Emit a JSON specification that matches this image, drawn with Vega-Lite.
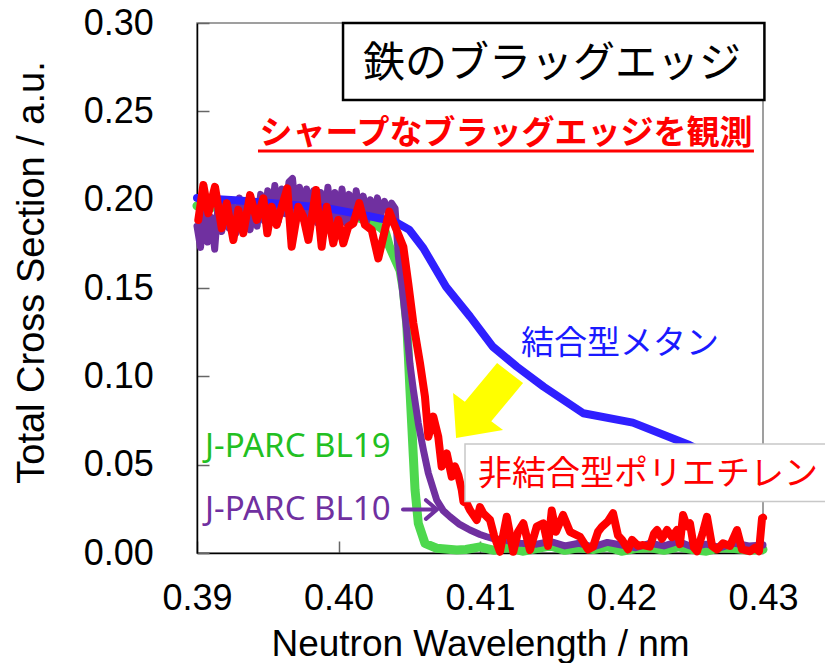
{
  "$schema": "https://vega.github.io/schema/vega-lite/v6.json",
  "width": 566,
  "height": 530,
  "autosize": "none",
  "padding": {"left": 197, "top": 23, "right": 62, "bottom": 110},
  "background": "white",
  "config": {
    "view": {"stroke": "#808080", "strokeWidth": 1.5},
    "axis": {
      "grid": false,
      "labelFont": "Liberation Sans",
      "labelFontSize": 36,
      "labelColor": "#000000",
      "titleFont": "Liberation Sans",
      "titleFontWeight": "normal",
      "titleColor": "#000000",
      "domainColor": "#000000",
      "domainWidth": 1.5,
      "tickColor": "#666666",
      "tickWidth": 1.5,
      "tickSize": -12,
      "labelFlush": false,
      "labelOverlap": false
    },
    "axisX": {"labelPadding": 40.6, "titleFontSize": 37, "titleX": 283, "titleY": 102, "titleBaseline": "alphabetic", "titleAlign": "center"},
    "axisY": {"labelPadding": 55.7, "titleFontSize": 38, "titleX": -154, "titleY": 249, "titleBaseline": "alphabetic", "titleAlign": "center", "titleAngle": -90}
  },
  "datasets": {
    "blue": [
      {"x": 0.3900, "y": 0.2010}, {"x": 0.3930, "y": 0.1995}, {"x": 0.3960, "y": 0.1975}, {"x": 0.3990, "y": 0.1955},
      {"x": 0.4020, "y": 0.1910}, {"x": 0.4040, "y": 0.1875}, {"x": 0.4050, "y": 0.1830}, {"x": 0.4060, "y": 0.1725},
      {"x": 0.4076, "y": 0.1507}, {"x": 0.4093, "y": 0.1338}, {"x": 0.4109, "y": 0.1168}, {"x": 0.4126, "y": 0.1055},
      {"x": 0.4145, "y": 0.0941}, {"x": 0.4173, "y": 0.0791}, {"x": 0.4208, "y": 0.0738}, {"x": 0.4248, "y": 0.0611},
      {"x": 0.4300, "y": 0.0400}
    ],
    "green": [
      {"x": 0.3900, "y": 0.1965}, {"x": 0.3905, "y": 0.1975}, {"x": 0.3910, "y": 0.1955}, {"x": 0.3915, "y": 0.1968},
      {"x": 0.3920, "y": 0.1958}, {"x": 0.3925, "y": 0.1972}, {"x": 0.3930, "y": 0.1962}, {"x": 0.3935, "y": 0.1975},
      {"x": 0.3940, "y": 0.1965}, {"x": 0.3945, "y": 0.1980}, {"x": 0.3950, "y": 0.1968}, {"x": 0.3955, "y": 0.1978},
      {"x": 0.3960, "y": 0.1970}, {"x": 0.3965, "y": 0.1975}, {"x": 0.3970, "y": 0.1960}, {"x": 0.3975, "y": 0.1968},
      {"x": 0.3980, "y": 0.1950}, {"x": 0.3985, "y": 0.1945}, {"x": 0.3990, "y": 0.1935}, {"x": 0.3995, "y": 0.1940},
      {"x": 0.4000, "y": 0.1925}, {"x": 0.4005, "y": 0.1918}, {"x": 0.4010, "y": 0.1905}, {"x": 0.4015, "y": 0.1895},
      {"x": 0.4020, "y": 0.1880}, {"x": 0.4025, "y": 0.1865}, {"x": 0.4030, "y": 0.1840}, {"x": 0.4033, "y": 0.1820},
      {"x": 0.4036, "y": 0.1735}, {"x": 0.40435, "y": 0.1600}, {"x": 0.40458, "y": 0.1490}, {"x": 0.40482, "y": 0.1300},
      {"x": 0.40494, "y": 0.1110}, {"x": 0.40505, "y": 0.0923}, {"x": 0.40517, "y": 0.0735}, {"x": 0.40529, "y": 0.0545},
      {"x": 0.40541, "y": 0.0357}, {"x": 0.40564, "y": 0.0168}, {"x": 0.40611, "y": 0.0055}, {"x": 0.40694, "y": 0.0027},
      {"x": 0.40835, "y": 0.0017}, {"x": 0.4090, "y": 0.0020}, {"x": 0.4100, "y": 0.0035}, {"x": 0.4110, "y": 0.0015},
      {"x": 0.4120, "y": 0.0030}, {"x": 0.4130, "y": 0.0010}, {"x": 0.4140, "y": 0.0025}, {"x": 0.4150, "y": 0.0040},
      {"x": 0.4160, "y": 0.0015}, {"x": 0.4170, "y": 0.0030}, {"x": 0.4180, "y": 0.0020}, {"x": 0.4190, "y": 0.0035},
      {"x": 0.4200, "y": 0.0010}, {"x": 0.4210, "y": 0.0025}, {"x": 0.4220, "y": 0.0030}, {"x": 0.4230, "y": 0.0015},
      {"x": 0.4240, "y": 0.0035}, {"x": 0.4250, "y": 0.0020}, {"x": 0.4260, "y": 0.0010}, {"x": 0.4270, "y": 0.0030},
      {"x": 0.4280, "y": 0.0025}, {"x": 0.4290, "y": 0.0015}, {"x": 0.4300, "y": 0.0020}
    ],
    "purple": [
      {"x": 0.39000, "y": 0.1850}, {"x": 0.39025, "y": 0.1730}, {"x": 0.39050, "y": 0.1950}, {"x": 0.39075, "y": 0.1760},
      {"x": 0.39100, "y": 0.1900}, {"x": 0.39125, "y": 0.1720}, {"x": 0.39150, "y": 0.1980}, {"x": 0.39175, "y": 0.1820},
      {"x": 0.39200, "y": 0.2000}, {"x": 0.39225, "y": 0.1840}, {"x": 0.39250, "y": 0.1960}, {"x": 0.39275, "y": 0.1810},
      {"x": 0.39300, "y": 0.2010}, {"x": 0.39325, "y": 0.1860}, {"x": 0.39350, "y": 0.1990}, {"x": 0.39375, "y": 0.1830},
      {"x": 0.39400, "y": 0.1970}, {"x": 0.39425, "y": 0.1850}, {"x": 0.39450, "y": 0.2030}, {"x": 0.39475, "y": 0.1880},
      {"x": 0.39500, "y": 0.2050}, {"x": 0.39525, "y": 0.1900}, {"x": 0.39550, "y": 0.2080}, {"x": 0.39575, "y": 0.1880},
      {"x": 0.39600, "y": 0.2060}, {"x": 0.39625, "y": 0.1920}, {"x": 0.39650, "y": 0.2100}, {"x": 0.39675, "y": 0.2120},
      {"x": 0.39700, "y": 0.1910}, {"x": 0.39725, "y": 0.2070}, {"x": 0.39750, "y": 0.1890}, {"x": 0.39775, "y": 0.2060},
      {"x": 0.39800, "y": 0.1900}, {"x": 0.39825, "y": 0.2050}, {"x": 0.39850, "y": 0.1870}, {"x": 0.39875, "y": 0.2040},
      {"x": 0.39900, "y": 0.1880}, {"x": 0.39925, "y": 0.2070}, {"x": 0.39950, "y": 0.1860}, {"x": 0.39975, "y": 0.2040},
      {"x": 0.40000, "y": 0.1890}, {"x": 0.40025, "y": 0.2060}, {"x": 0.40050, "y": 0.1870}, {"x": 0.40075, "y": 0.2030},
      {"x": 0.40100, "y": 0.1880}, {"x": 0.40125, "y": 0.2050}, {"x": 0.40150, "y": 0.1900}, {"x": 0.40175, "y": 0.2020},
      {"x": 0.40200, "y": 0.1880}, {"x": 0.40225, "y": 0.2000}, {"x": 0.40250, "y": 0.1900}, {"x": 0.40275, "y": 0.2010},
      {"x": 0.40300, "y": 0.1920}, {"x": 0.40325, "y": 0.1990}, {"x": 0.40350, "y": 0.1940}, {"x": 0.40375, "y": 0.1980},
      {"x": 0.40400, "y": 0.1950}, {"x": 0.40423, "y": 0.1680}, {"x": 0.40447, "y": 0.1527}, {"x": 0.40482, "y": 0.1260},
      {"x": 0.40505, "y": 0.1070}, {"x": 0.40529, "y": 0.0923}, {"x": 0.40564, "y": 0.0734}, {"x": 0.40600, "y": 0.0583},
      {"x": 0.40635, "y": 0.0451}, {"x": 0.40694, "y": 0.0300}, {"x": 0.40740, "y": 0.0240}, {"x": 0.40788, "y": 0.0205},
      {"x": 0.40850, "y": 0.0165}, {"x": 0.40929, "y": 0.0130}, {"x": 0.41000, "y": 0.0105}, {"x": 0.41047, "y": 0.0092},
      {"x": 0.41100, "y": 0.0080}, {"x": 0.41165, "y": 0.0074}, {"x": 0.41283, "y": 0.0055}, {"x": 0.4140, "y": 0.0050},
      {"x": 0.4150, "y": 0.0065}, {"x": 0.4160, "y": 0.0040}, {"x": 0.4170, "y": 0.0055}, {"x": 0.4180, "y": 0.0035},
      {"x": 0.4190, "y": 0.0060}, {"x": 0.4200, "y": 0.0045}, {"x": 0.4210, "y": 0.0030}, {"x": 0.4220, "y": 0.0055},
      {"x": 0.4230, "y": 0.0040}, {"x": 0.4240, "y": 0.0065}, {"x": 0.4250, "y": 0.0035}, {"x": 0.4260, "y": 0.0050},
      {"x": 0.4270, "y": 0.0030}, {"x": 0.4280, "y": 0.0055}, {"x": 0.4290, "y": 0.0040}, {"x": 0.4300, "y": 0.0045}
    ],
    "red": [
      {"x": 0.39009, "y": 0.1885}, {"x": 0.39045, "y": 0.2083}, {"x": 0.39080, "y": 0.1923}, {"x": 0.39127, "y": 0.2073},
      {"x": 0.39175, "y": 0.1838}, {"x": 0.39210, "y": 0.1980}, {"x": 0.39257, "y": 0.1772}, {"x": 0.39292, "y": 0.1942},
      {"x": 0.39327, "y": 0.1810}, {"x": 0.39375, "y": 0.2026}, {"x": 0.39422, "y": 0.1885}, {"x": 0.39469, "y": 0.2008},
      {"x": 0.39497, "y": 0.1810}, {"x": 0.39528, "y": 0.1960}, {"x": 0.39563, "y": 0.1857}, {"x": 0.39599, "y": 0.1960},
      {"x": 0.39638, "y": 0.2064}, {"x": 0.39669, "y": 0.1734}, {"x": 0.39716, "y": 0.1960}, {"x": 0.39751, "y": 0.1904},
      {"x": 0.39787, "y": 0.1772}, {"x": 0.39841, "y": 0.2055}, {"x": 0.39881, "y": 0.1734}, {"x": 0.39917, "y": 0.1960},
      {"x": 0.39963, "y": 0.1753}, {"x": 0.39999, "y": 0.1885}, {"x": 0.40034, "y": 0.1753}, {"x": 0.40069, "y": 0.1847},
      {"x": 0.40105, "y": 0.1866}, {"x": 0.40147, "y": 0.1980}, {"x": 0.40187, "y": 0.1857}, {"x": 0.40235, "y": 0.1828},
      {"x": 0.40281, "y": 0.1668}, {"x": 0.40317, "y": 0.1790}, {"x": 0.40359, "y": 0.1932}, {"x": 0.40399, "y": 0.1850},
      {"x": 0.40458, "y": 0.1734}, {"x": 0.40493, "y": 0.1527}, {"x": 0.40529, "y": 0.1300}, {"x": 0.40576, "y": 0.1074},
      {"x": 0.40611, "y": 0.0885}, {"x": 0.40635, "y": 0.0658}, {"x": 0.40670, "y": 0.0772}, {"x": 0.40705, "y": 0.0658},
      {"x": 0.40729, "y": 0.0489}, {"x": 0.40765, "y": 0.0564}, {"x": 0.40800, "y": 0.0432}, {"x": 0.40823, "y": 0.0490},
      {"x": 0.40847, "y": 0.0441}, {"x": 0.40871, "y": 0.0357}, {"x": 0.40883, "y": 0.0290}, {"x": 0.40906, "y": 0.0281},
      {"x": 0.40929, "y": 0.0243}, {"x": 0.40977, "y": 0.0187}, {"x": 0.41000, "y": 0.0260}, {"x": 0.41023, "y": 0.0225},
      {"x": 0.41071, "y": 0.0187}, {"x": 0.41099, "y": 0.0100}, {"x": 0.41141, "y": 0.0007}, {"x": 0.41189, "y": 0.0205},
      {"x": 0.41235, "y": 0.0007}, {"x": 0.41269, "y": 0.0120}, {"x": 0.41306, "y": 0.0168}, {"x": 0.41353, "y": 0.0017},
      {"x": 0.41401, "y": 0.0149}, {"x": 0.41447, "y": 0.0168}, {"x": 0.41481, "y": 0.0040}, {"x": 0.41507, "y": 0.0240},
      {"x": 0.41537, "y": 0.0120}, {"x": 0.41587, "y": 0.0215}, {"x": 0.41636, "y": 0.0120}, {"x": 0.41707, "y": 0.0092},
      {"x": 0.41763, "y": 0.0020}, {"x": 0.41799, "y": 0.0036}, {"x": 0.41834, "y": 0.0120}, {"x": 0.41862, "y": 0.0149},
      {"x": 0.41905, "y": 0.0180}, {"x": 0.41940, "y": 0.0225}, {"x": 0.41975, "y": 0.0100}, {"x": 0.42004, "y": 0.0074},
      {"x": 0.42046, "y": 0.0020}, {"x": 0.42074, "y": 0.0074}, {"x": 0.42117, "y": 0.0040}, {"x": 0.42152, "y": 0.0045},
      {"x": 0.42201, "y": 0.0036}, {"x": 0.42230, "y": 0.0110}, {"x": 0.42251, "y": 0.0130}, {"x": 0.42286, "y": 0.0080},
      {"x": 0.42322, "y": 0.0130}, {"x": 0.42357, "y": 0.0090}, {"x": 0.42392, "y": 0.0130}, {"x": 0.42413, "y": 0.0050},
      {"x": 0.42435, "y": 0.0215}, {"x": 0.42463, "y": 0.0150}, {"x": 0.42484, "y": 0.0168}, {"x": 0.42512, "y": 0.0030},
      {"x": 0.42534, "y": 0.0010}, {"x": 0.42576, "y": 0.0120}, {"x": 0.42604, "y": 0.0205}, {"x": 0.42640, "y": 0.0040},
      {"x": 0.42675, "y": 0.0020}, {"x": 0.42717, "y": 0.0055}, {"x": 0.42767, "y": 0.0040}, {"x": 0.42816, "y": 0.0130},
      {"x": 0.42852, "y": 0.0020}, {"x": 0.42908, "y": 0.0010}, {"x": 0.42943, "y": 0.0030}, {"x": 0.42972, "y": 0.0010},
      {"x": 0.42993, "y": 0.0196}, {"x": 0.43000, "y": 0.0200}
    ]
  },
  "layer": [
    {
      "data": {"name": "green"},
      "mark": {"type": "line", "color": "#4ed84e", "strokeWidth": 9, "strokeJoin": "round", "strokeCap": "round"},
      "encoding": {
        "x": {"field": "x", "type": "quantitative", "title": "Neutron Wavelength / nm",
              "scale": {"domain": [0.39, 0.43], "nice": false, "zero": false},
              "axis": {"values": [0.39, 0.40, 0.41, 0.42, 0.43], "format": ".2f"}},
        "y": {"field": "y", "type": "quantitative", "title": "Total Cross Section / a.u.",
              "scale": {"domain": [0, 0.30], "nice": false, "zero": false},
              "axis": {"values": [0, 0.05, 0.10, 0.15, 0.20, 0.25, 0.30], "format": ".2f"}}
      }
    },
    {
      "data": {"name": "purple"},
      "mark": {"type": "line", "color": "#7030a0", "strokeWidth": 7, "strokeJoin": "round", "strokeCap": "round"},
      "encoding": {
        "x": {"field": "x", "type": "quantitative", "title": "Neutron Wavelength / nm"},
        "y": {"field": "y", "type": "quantitative", "title": "Total Cross Section / a.u."}
      }
    },
    {
      "data": {"name": "blue"},
      "mark": {"type": "line", "color": "#2f1fff", "strokeWidth": 8, "strokeJoin": "round", "strokeCap": "round"},
      "encoding": {
        "x": {"field": "x", "type": "quantitative", "title": "Neutron Wavelength / nm"},
        "y": {"field": "y", "type": "quantitative", "title": "Total Cross Section / a.u."}
      }
    },
    {
      "data": {"name": "red"},
      "mark": {"type": "line", "color": "#ff0000", "strokeWidth": 8, "strokeJoin": "round", "strokeCap": "round"},
      "encoding": {
        "x": {"field": "x", "type": "quantitative", "title": "Neutron Wavelength / nm"},
        "y": {"field": "y", "type": "quantitative", "title": "Total Cross Section / a.u."}
      }
    },
    {
      "data": {"values": [{"x": 0.40032, "x2": 0.43010, "y": 0.3000, "y2": 0.25641}]},
      "mark": {"type": "rect", "fill": "#ffffff", "stroke": "#000000", "strokeWidth": 2.5},
      "encoding": {
        "x": {"field": "x", "type": "quantitative", "title": "Neutron Wavelength / nm"},
        "x2": {"field": "x2"},
        "y": {"field": "y", "type": "quantitative", "title": "Total Cross Section / a.u."},
        "y2": {"field": "y2"}
      }
    },
    {
      "data": {"values": [{"x": 0.40894, "x2": 0.43480, "y": 0.0617, "y2": 0.02915}]},
      "mark": {"type": "rect", "fill": "#ffffff", "stroke": "#c8c8c8", "strokeWidth": 1.5},
      "encoding": {
        "x": {"field": "x", "type": "quantitative", "title": "Neutron Wavelength / nm"},
        "x2": {"field": "x2"},
        "y": {"field": "y", "type": "quantitative", "title": "Total Cross Section / a.u."},
        "y2": {"field": "y2"}
      }
    },
    {
      "data": {"values": [{"x": 0.39431, "x2": 0.42936, "y": 0.22756}]},
      "mark": {"type": "rule", "color": "#ff0000", "strokeWidth": 3},
      "encoding": {
        "x": {"field": "x", "type": "quantitative", "title": "Neutron Wavelength / nm"},
        "x2": {"field": "x2"},
        "y": {"field": "y", "type": "quantitative", "title": "Total Cross Section / a.u."}
      }
    },
    {
      "data": {"values": [{"x": 0.41057, "y": 0.08632}]},
      "mark": {"type": "point", "filled": true, "color": "#ffff00", "opacity": 1, "size": 5625,
               "shape": "M -0.853 1 L -0.933 -0.2 L -0.619 0.032 L 0.24 -1 L 0.933 -0.467 L 0.085 0.555 L 0.4 0.787 Z"},
      "encoding": {
        "x": {"field": "x", "type": "quantitative", "title": "Neutron Wavelength / nm"},
        "y": {"field": "y", "type": "quantitative", "title": "Total Cross Section / a.u."}
      }
    },
    {
      "data": {"values": [{"x": 0.40576, "y": 0.02462}]},
      "mark": {"type": "point", "filled": false, "color": "#7030a0", "opacity": 1, "strokeWidth": 4, "size": 1156,
               "strokeCap": "round", "strokeJoin": "round",
               "shape": "M -1 0 L 1 0 M 0.35 -0.55 L 1 0 L 0.35 0.55"},
      "encoding": {
        "x": {"field": "x", "type": "quantitative", "title": "Neutron Wavelength / nm"},
        "y": {"field": "y", "type": "quantitative", "title": "Total Cross Section / a.u."}
      }
    },
    {
      "data": {"values": [{"label": "鉄のブラッグエッジ", "x": 0.41509, "y": 0.27657}]},
      "mark": {"type": "text", "font": "Noto Sans CJK JP", "fontSize": 42, "color": "#000000", "align": "center", "baseline": "middle"},
      "encoding": {
        "x": {"field": "x", "type": "quantitative", "title": "Neutron Wavelength / nm"},
        "y": {"field": "y", "type": "quantitative", "title": "Total Cross Section / a.u."},
        "text": {"field": "label"}
      }
    },
    {
      "data": {"values": [{"label": "シャープなブラッグエッジを観測", "x": 0.41184, "y": 0.23743}]},
      "mark": {"type": "text", "font": "Noto Sans CJK JP", "fontSize": 33, "fontWeight": "bold", "color": "#ff0000", "align": "center", "baseline": "middle"},
      "encoding": {
        "x": {"field": "x", "type": "quantitative", "title": "Neutron Wavelength / nm"},
        "y": {"field": "y", "type": "quantitative", "title": "Total Cross Section / a.u."},
        "text": {"field": "label"}
      }
    },
    {
      "data": {"values": [{"label": "結合型メタン", "x": 0.41290, "y": 0.11853}]},
      "mark": {"type": "text", "font": "Noto Sans CJK JP", "fontSize": 33, "color": "#1a1aff", "align": "left", "baseline": "middle"},
      "encoding": {
        "x": {"field": "x", "type": "quantitative", "title": "Neutron Wavelength / nm"},
        "y": {"field": "y", "type": "quantitative", "title": "Total Cross Section / a.u."},
        "text": {"field": "label"}
      }
    },
    {
      "data": {"values": [{"label": "非結合型ポリエチレン", "x": 0.40986, "y": 0.04387}]},
      "mark": {"type": "text", "font": "Noto Sans CJK JP", "fontSize": 34, "color": "#ff0000", "align": "left", "baseline": "middle"},
      "encoding": {
        "x": {"field": "x", "type": "quantitative", "title": "Neutron Wavelength / nm"},
        "y": {"field": "y", "type": "quantitative", "title": "Total Cross Section / a.u."},
        "text": {"field": "label"}
      }
    },
    {
      "data": {"values": [{"label": "J-PARC BL19", "x": 0.39057, "y": 0.06005}]},
      "mark": {"type": "text", "font": "Noto Sans", "fontSize": 33, "color": "#22c022", "align": "left", "baseline": "middle"},
      "encoding": {
        "x": {"field": "x", "type": "quantitative", "title": "Neutron Wavelength / nm"},
        "y": {"field": "y", "type": "quantitative", "title": "Total Cross Section / a.u."},
        "text": {"field": "label"}
      }
    },
    {
      "data": {"values": [{"label": "J-PARC BL10", "x": 0.39057, "y": 0.02411}]},
      "mark": {"type": "text", "font": "Noto Sans", "fontSize": 33, "color": "#7030a0", "align": "left", "baseline": "middle"},
      "encoding": {
        "x": {"field": "x", "type": "quantitative", "title": "Neutron Wavelength / nm"},
        "y": {"field": "y", "type": "quantitative", "title": "Total Cross Section / a.u."},
        "text": {"field": "label"}
      }
    }
  ]
}
